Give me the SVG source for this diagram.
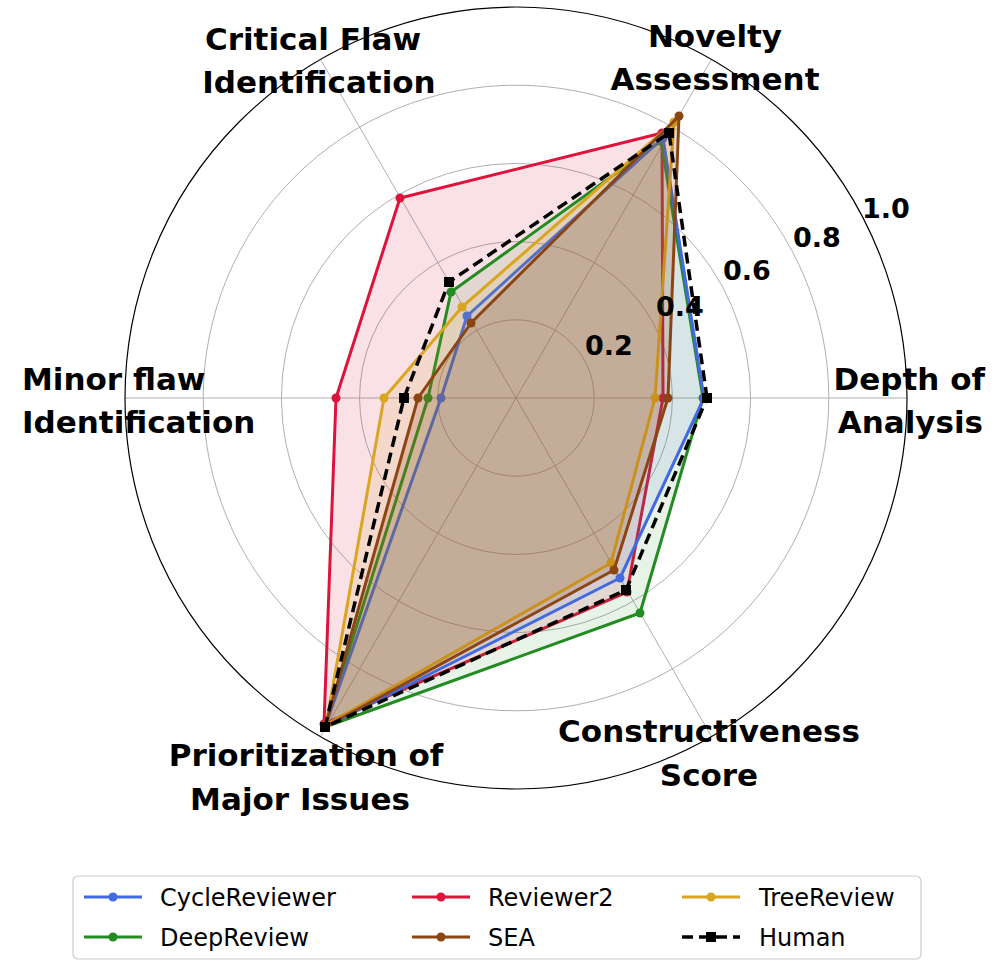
<svg xmlns="http://www.w3.org/2000/svg" width="996" height="971" viewBox="0 0 996 971">
<style>
.g{fill:none;stroke:#b0b0b0;stroke-width:1}
.lab{font-family:"DejaVu Sans",sans-serif;font-weight:bold;font-size:31px;fill:#000}
.rl{font-family:"DejaVu Sans",sans-serif;font-weight:bold;font-size:27px;fill:#000}
.lg{font-family:"DejaVu Sans",sans-serif;font-size:24px;fill:#000}
.s{stroke-width:3;stroke-linejoin:round}
</style>
<rect width="996" height="971" fill="#fff"/>
<g id="grid">
<circle class="g" cx="516" cy="398" r="78.2"/>
<circle class="g" cx="516" cy="398" r="156.4"/>
<circle class="g" cx="516" cy="398" r="234.6"/>
<circle class="g" cx="516" cy="398" r="312.8"/>
<line class="g" x1="516" y1="398" x2="907" y2="398"/>
<line class="g" x1="516" y1="398" x2="711.5" y2="59.4"/>
<line class="g" x1="516" y1="398" x2="320.5" y2="59.4"/>
<line class="g" x1="516" y1="398" x2="125" y2="398"/>
<line class="g" x1="516" y1="398" x2="320.5" y2="736.6"/>
<line class="g" x1="516" y1="398" x2="711.5" y2="736.6"/>
<circle cx="516" cy="398" r="391" fill="none" stroke="#000" stroke-width="1.2"/>
</g>
<g id="series">
<g id="reviewer2"><polygon class="s" points="663,398 662,133 400,198 336,398 324,724 627,592" fill="#DC143C" fill-opacity="0.13" stroke="#DC143C"/>
<g fill="#DC143C"><circle cx="663" cy="398" r="4.5"/><circle cx="662" cy="133" r="4.5"/><circle cx="400" cy="198" r="4.5"/><circle cx="336" cy="398" r="4.5"/><circle cx="324" cy="724" r="4.5"/><circle cx="627" cy="592" r="4.5"/></g></g>
<g id="deepreview"><polygon class="s" points="703,398 661,141 451,292 428,398 325,727 640,613" fill="#228B22" fill-opacity="0.1" stroke="#228B22"/>
<g fill="#228B22"><circle cx="703" cy="398" r="4.5"/><circle cx="661" cy="141" r="4.5"/><circle cx="451" cy="292" r="4.5"/><circle cx="428" cy="398" r="4.5"/><circle cx="325" cy="727" r="4.5"/><circle cx="640" cy="613" r="4.5"/></g></g>
<g id="cyclereviewer"><polygon class="s" points="704,398 663,138 467,316 441,398 325,727 620,578" fill="#4169E1" fill-opacity="0.1" stroke="#4169E1"/>
<g fill="#4169E1"><circle cx="704" cy="398" r="4.5"/><circle cx="663" cy="138" r="4.5"/><circle cx="467" cy="316" r="4.5"/><circle cx="441" cy="398" r="4.5"/><circle cx="325" cy="727" r="4.5"/><circle cx="620" cy="578" r="4.5"/></g></g>
<g id="treereview"><polygon class="s" points="655,398 674,122 462,307 384,398 326,725 611,563" fill="#DAA520" fill-opacity="0.13" stroke="#DAA520"/>
<g fill="#DAA520"><circle cx="655" cy="398" r="4.5"/><circle cx="674" cy="122" r="4.5"/><circle cx="462" cy="307" r="4.5"/><circle cx="384" cy="398" r="4.5"/><circle cx="326" cy="725" r="4.5"/><circle cx="611" cy="563" r="4.5"/></g></g>
<g id="sea"><polygon class="s" points="668,398 679,116 471,323 418,398 325,727 614,570" fill="#8B4513" fill-opacity="0.2" stroke="#8B4513"/>
<g fill="#8B4513"><circle cx="668" cy="398" r="4.5"/><circle cx="679" cy="116" r="4.5"/><circle cx="471" cy="323" r="4.5"/><circle cx="418" cy="398" r="4.5"/><circle cx="325" cy="727" r="4.5"/><circle cx="614" cy="570" r="4.5"/></g></g>
<g id="human"><polygon points="707,398 669,133 449,282 404,398 325,727 626,590" fill="none" stroke="#000" stroke-width="3.5" stroke-dasharray="11,6" stroke-linejoin="round"/>
<g fill="#000"><rect x="702" y="393" width="10" height="10"/><rect x="664" y="128" width="10" height="10"/><rect x="444" y="277" width="10" height="10"/><rect x="399" y="393" width="10" height="10"/><rect x="320" y="722" width="10" height="10"/><rect x="621" y="585" width="10" height="10"/></g></g>
</g>
<g id="labels">
<text class="lab" x="715" y="47" text-anchor="middle">Novelty</text>
<text class="lab" x="715" y="90" text-anchor="middle">Assessment</text>
<text class="lab" x="313" y="50" text-anchor="middle">Critical Flaw</text>
<text class="lab" x="319" y="93" text-anchor="middle">Identification</text>
<text class="lab" x="22" y="390">Minor flaw</text>
<text class="lab" x="22" y="433">Identification</text>
<text class="lab" x="985" y="390" text-anchor="end">Depth of</text>
<text class="lab" x="983" y="433" text-anchor="end">Analysis</text>
<text class="lab" x="306" y="766" text-anchor="middle">Prioritization of</text>
<text class="lab" x="300" y="810" text-anchor="middle">Major Issues</text>
<text class="lab" x="709" y="742" text-anchor="middle">Constructiveness</text>
<text class="lab" x="709" y="786" text-anchor="middle">Score</text>
<text class="rl" x="609" y="355" text-anchor="middle">0.2</text>
<text class="rl" x="680" y="316" text-anchor="middle">0.4</text>
<text class="rl" x="747" y="280" text-anchor="middle">0.6</text>
<text class="rl" x="817" y="247" text-anchor="middle">0.8</text>
<text class="rl" x="886" y="218" text-anchor="middle">1.0</text>
</g>
<g id="legend">
<rect x="73" y="876" width="848" height="83" rx="5" fill="#fff" stroke="#ccc" stroke-width="1.2"/>
<line x1="84" y1="897" x2="142" y2="897" stroke="#4169E1" stroke-width="3"/><circle cx="113" cy="897" r="4.5" fill="#4169E1"/>
<text class="lg" x="160" y="906">CycleReviewer</text>
<line x1="84" y1="937" x2="142" y2="937" stroke="#228B22" stroke-width="3"/><circle cx="113" cy="937" r="4.5" fill="#228B22"/>
<text class="lg" x="160" y="946">DeepReview</text>
<line x1="412" y1="897" x2="470" y2="897" stroke="#DC143C" stroke-width="3"/><circle cx="441" cy="897" r="4.5" fill="#DC143C"/>
<text class="lg" x="488" y="906">Reviewer2</text>
<line x1="412" y1="937" x2="470" y2="937" stroke="#8B4513" stroke-width="3"/><circle cx="441" cy="937" r="4.5" fill="#8B4513"/>
<text class="lg" x="488" y="946">SEA</text>
<line x1="682" y1="897" x2="740" y2="897" stroke="#DAA520" stroke-width="3"/><circle cx="711" cy="897" r="4.5" fill="#DAA520"/>
<text class="lg" x="759" y="906">TreeReview</text>
<line x1="682" y1="937" x2="740" y2="937" stroke="#000" stroke-width="3.5" stroke-dasharray="11,6"/><rect x="706" y="932" width="10" height="10" fill="#000"/>
<text class="lg" x="759" y="946">Human</text>
</g>
</svg>
